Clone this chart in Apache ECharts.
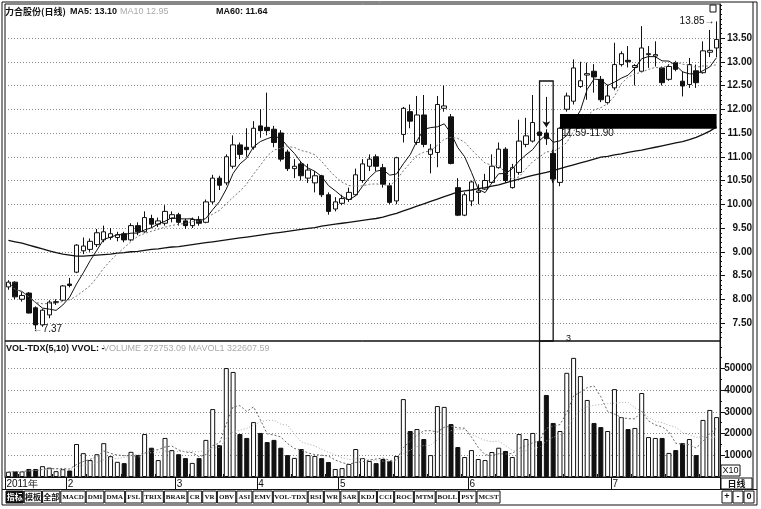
<!DOCTYPE html>
<html><head><meta charset="utf-8">
<script src="https://cdn.jsdelivr.net/npm/echarts@6/dist/echarts.min.js"></script>
<style>html,body{margin:0;padding:0;background:#fff}#c{width:761px;height:509px}</style>
</head><body><div id="c"></div>
<script>
// ---------- data ----------
const opens = [
8.26, 8.36, 8.00, 8.13, 7.82, 7.46, 7.67, 7.93, 7.98, 8.32,
8.57, 9.02, 9.05, 9.15, 9.25, 9.30, 9.30, 9.38, 9.25, 9.55,
9.42, 9.70, 9.58, 9.60, 9.70, 9.78, 9.65, 9.55, 9.68, 9.62,
10.05, 10.55, 10.45, 10.80, 11.25, 11.20, 11.20, 11.65, 11.62, 11.58,
11.50, 11.10, 10.75, 10.85, 10.55, 10.45, 10.60, 10.20, 9.90, 10.02,
10.10, 10.20, 10.50, 10.80, 11.00, 10.77, 10.39, 10.07, 11.47, 11.95,
11.30, 11.88, 11.05, 11.09, 12.02, 11.84, 10.35, 9.77, 10.07, 10.25,
10.32, 10.46, 10.77, 11.16, 10.35, 10.67, 11.26, 11.33, 11.52, 11.50,
11.07, 10.46, 12.00, 12.17, 12.48, 12.72, 12.80, 12.63, 12.14, 12.45,
12.94, 13.03, 12.88, 12.80, 13.15, 13.12, 12.87, 12.63, 12.98, 12.59,
12.52, 12.81, 12.77, 13.20, 13.29];
const closes = [
8.36, 8.05, 8.08, 7.71, 7.46, 7.77, 7.94, 7.95, 8.28, 8.29,
9.14, 9.12, 9.22, 9.40, 9.42, 9.38, 9.36, 9.25, 9.55, 9.42,
9.72, 9.58, 9.65, 9.85, 9.78, 9.62, 9.55, 9.68, 9.60, 10.05,
10.55, 10.40, 11.00, 11.25, 11.05, 11.15, 11.60, 11.55, 11.55, 11.30,
10.95, 10.75, 10.80, 10.60, 10.72, 10.60, 10.20, 9.85, 10.05, 10.12,
10.25, 10.62, 10.85, 10.95, 10.80, 10.42, 10.04, 10.98, 12.02, 11.75,
11.88, 11.26, 11.16, 12.10, 12.07, 10.86, 9.77, 10.20, 10.47, 10.28,
10.50, 10.80, 11.16, 10.50, 10.77, 11.33, 11.44, 11.72, 11.45, 11.38,
10.53, 11.60, 12.28, 12.87, 12.60, 12.75, 12.68, 12.20, 12.28, 12.94,
13.17, 13.00, 12.92, 13.29, 13.17, 13.15, 12.56, 12.90, 12.84, 12.49,
12.94, 12.56, 13.23, 13.24, 13.47];
const lows = [
8.20, 8.00, 7.95, 7.70, 7.37, 7.42, 7.60, 7.88, 7.96, 8.25,
8.55, 8.95, 9.00, 9.10, 9.20, 9.25, 9.22, 9.20, 9.22, 9.35,
9.40, 9.50, 9.52, 9.55, 9.62, 9.55, 9.48, 9.50, 9.55, 9.60,
10.00, 10.30, 10.40, 10.75, 10.95, 11.00, 11.15, 11.40, 11.45, 11.20,
10.90, 10.70, 10.55, 10.50, 10.45, 10.25, 10.15, 9.78, 9.85, 9.98,
10.05, 10.18, 10.45, 10.70, 10.70, 10.35, 10.00, 10.00, 11.30, 11.60,
11.25, 11.20, 10.65, 10.78, 11.95, 10.84, 9.75, 9.75, 9.96, 10.00,
10.30, 10.44, 10.75, 10.45, 10.33, 10.62, 11.20, 11.30, 11.40, 11.25,
10.45, 10.38, 11.95, 12.10, 12.45, 12.20, 12.35, 12.15, 12.10, 12.40,
12.90, 12.88, 12.50, 12.78, 12.87, 12.90, 12.50, 12.60, 12.80, 12.27,
12.45, 12.45, 12.75, 13.10, 13.10];
const highs = [
8.40, 8.38, 8.15, 8.15, 7.85, 7.80, 7.98, 8.00, 8.30, 8.45,
9.16, 9.30, 9.28, 9.48, 9.55, 9.50, 9.42, 9.42, 9.60, 9.62,
9.85, 9.78, 9.72, 9.98, 9.85, 9.82, 9.70, 9.72, 9.75, 10.10,
10.62, 10.60, 11.05, 11.45, 11.30, 11.60, 11.75, 12.00, 12.35, 11.65,
11.56, 11.15, 10.95, 10.90, 10.85, 10.70, 10.62, 10.25, 10.15, 10.20,
10.35, 10.75, 10.95, 11.05, 11.05, 10.85, 10.45, 11.00, 12.05, 12.10,
12.28, 12.30, 11.27, 12.28, 12.50, 11.90, 10.55, 10.25, 10.50, 10.42,
10.64, 11.05, 11.30, 11.20, 10.85, 11.78, 11.82, 12.30, 11.60, 11.58,
11.15, 11.62, 12.35, 13.05, 13.00, 12.98, 12.95, 12.70, 12.52, 13.40,
13.22, 13.33, 12.95, 13.75, 13.33, 13.43, 12.90, 12.95, 13.02, 12.80,
13.08, 12.94, 13.43, 13.67, 13.85];
const volumes = [
2400, 2600, 2600, 3700, 3700, 5000, 4300, 2700, 3600, 3000,
15200, 11000, 7800, 10500, 15600, 9600, 7000, 6400, 11600, 10100,
19800, 13500, 7800, 18000, 12400, 10500, 8700, 6500, 8700, 17100,
31300, 14700, 50200, 48400, 19800, 18000, 25300, 20300, 16100, 17100,
13500, 10100, 8800, 12900, 10100, 9700, 8700, 6900, 3700, 4100,
6000, 12900, 8700, 7400, 6400, 8300, 7400, 9700, 35900, 21200,
22100, 17500, 10100, 32700, 32300, 24400, 13800, 9200, 12400, 8300,
7800, 11500, 13500, 12000, 9200, 19800, 17500, 20300, 16600, 37800,
24900, 21200, 48000, 54900, 46500, 35500, 24900, 23000, 21200, 40500,
27600, 22100, 22600, 38700, 18400, 18000, 18000, 11100, 12400, 15600,
17500, 10100, 26300, 30900, 27600];
const ma60 = [
9.24, 9.21, 9.18, 9.14, 9.10, 9.06, 9.02, 8.98, 8.95, 8.93,
8.91, 8.91, 8.92, 8.93, 8.94, 8.95, 8.97, 8.98, 9.00, 9.01,
9.03, 9.05, 9.06, 9.08, 9.10, 9.11, 9.13, 9.15, 9.17, 9.19,
9.21, 9.23, 9.25, 9.27, 9.29, 9.31, 9.33, 9.35, 9.37, 9.39,
9.41, 9.43, 9.45, 9.47, 9.49, 9.51, 9.54, 9.56, 9.58, 9.60,
9.62, 9.64, 9.66, 9.68, 9.70, 9.73, 9.77, 9.81, 9.86, 9.91,
9.96, 10.01, 10.06, 10.11, 10.16, 10.21, 10.26, 10.28, 10.30, 10.33,
10.35, 10.38, 10.41, 10.45, 10.49, 10.53, 10.57, 10.61, 10.64, 10.67,
10.71, 10.75, 10.79, 10.83, 10.87, 10.91, 10.95, 10.99, 11.01, 11.04,
11.06, 11.09, 11.12, 11.14, 11.17, 11.20, 11.23, 11.26, 11.29, 11.32,
11.36, 11.41, 11.47, 11.54, 11.63];
const categories = closes.map((_, i) => 'D' + (i + 1));
const priceTicks = [7.5, 8.0, 8.5, 9.0, 9.5, 10.0, 10.5, 11.0, 11.5, 12.0, 12.5, 13.0, 13.5];
const volumeTicks = [10000, 20000, 30000, 40000, 50000];
const monthLabels = ['2011年', '2', '3', '4', '5', '6', '7'];
const monthStarts = [0, 9, 25, 37, 49, 68, 89];
const supportZone = [11.59, 11.90];
const toolbarLabels = ['指标','模板','全部','MACD','DMI','DMA','FSL','TRIX','BRAR','CR','VR','OBV','ASI','EMV','VOL-TDX','RSI','WR','SAR','KDJ','CCI','ROC','MTM','BOLL','PSY','MCST'];

// ---------- axis extents (layout) ----------
const PRICE_MIN = 7.121, PRICE_MAX = 14.216, VOL_MAX = 62670;

// ---------- derived ----------
function movingAvg(arr, n) {
  return arr.map((_, i) => {
    const s = Math.max(0, i - n + 1); let sum = 0;
    for (let k = s; k <= i; k++) sum += arr[k];
    return +(sum / (i - s + 1)).toFixed(3);
  });
}
const ma5 = movingAvg(closes, 5), ma10 = movingAvg(closes, 10);
const vma5 = movingAvg(volumes, 5), vma10 = movingAvg(volumes, 10);
const kData = opens.map((o, i) => [o, closes[i], lows[i], highs[i]]);
const isUp = opens.map((o, i) => closes[i] >= o);
const minorPrice = []; for (let k = 72; k <= 142; k++) minorPrice.push(k / 10);
const minorVol = []; for (let k = 1; k <= 12; k++) minorVol.push(k * 5000);
const monthMap = {}; monthStarts.forEach((s, k) => monthMap[s] = monthLabels[k]);

const INK = '#111';
const SANS = '"Liberation Sans", Arial, sans-serif';
const CJK = '"Noto Sans CJK SC", sans-serif';

// toolbar
const tctx = document.createElement('canvas').getContext('2d');
const tbFont = 'bold 7px "Liberation Serif", serif';
tctx.font = tbFont;
const rawW = toolbarLabels.map(t => tctx.measureText(t).width + 6);
const scale = 495 / rawW.reduce((a, b) => a + b, 0);
const toolbar = [];
let tx = 6;
toolbarLabels.forEach((t, k) => {
  const w = rawW[k] * scale;
  toolbar.push({type: 'rect', shape: {x: tx, y: 491, width: w - 1, height: 12}, style: {fill: k === 0 ? INK : '#fff', stroke: INK, lineWidth: 1}});
  toolbar.push({type: 'text', x: tx + (w - 1) / 2, y: 497, style: {text: t, fill: k === 0 ? '#fff' : INK, font: /[A-Z]/.test(t) ? tbFont : 'bold 8px ' + CJK, align: 'center', verticalAlign: 'middle'}});
  tx += w;
});
['+', '-', '0'].forEach((t, k) => {
  toolbar.push({type: 'rect', shape: {x: 722 + k * 11, y: 491, width: 10, height: 12}, style: {fill: '#fff', stroke: INK, lineWidth: 1}});
  toolbar.push({type: 'text', x: 727 + k * 11, y: 497, style: {text: t, fill: INK, font: 'bold 9px ' + SANS, align: 'center', verticalAlign: 'middle'}});
});

const chart = echarts.init(document.getElementById('c'));
const gridLineStyle = {color: '#888', type: [1, 2], width: 1};
chart.setOption({
  animation: false,
  backgroundColor: '#fff',
  grid: [
    {left: 5, right: 41, top: 4, height: 337, show: true, borderColor: INK, borderWidth: 1, backgroundColor: 'transparent'},
    {left: 5, right: 41, top: 341, height: 136, show: true, borderColor: INK, borderWidth: 1, backgroundColor: 'transparent'}
  ],
  xAxis: [
    {type: 'category', gridIndex: 0, data: categories, boundaryGap: true, show: false},
    {type: 'category', gridIndex: 1, data: categories, boundaryGap: true,
     axisLine: {show: true, lineStyle: {color: INK}},
     axisTick: {show: true, length: 12, interval: (i) => monthMap[i] !== undefined, lineStyle: {color: INK}},
     axisLabel: {interval: (i) => monthMap[i] !== undefined, formatter: (v, i) => monthMap[i] || '',
       align: 'left', margin: 2, fontSize: 10, color: INK, fontFamily: SANS, padding: [0, 0, 0, -2]}},
    {type: 'category', gridIndex: 1, data: categories, boundaryGap: true,
     axisLine: {show: false}, axisLabel: {show: false},
     axisTick: {show: true, length: 3, interval: (i) => i % 5 === 2 && monthMap[i] === undefined, lineStyle: {color: INK}}}
  ],
  yAxis: [
    {type: 'value', gridIndex: 0, position: 'right', min: PRICE_MIN, max: PRICE_MAX,
     splitLine: {show: false}, axisLine: {show: true, lineStyle: {color: INK}},
     axisTick: {show: true, customValues: priceTicks, length: 5, lineStyle: {color: INK}},
     axisLabel: {customValues: priceTicks, formatter: v => v.toFixed(2), align: 'right', margin: 32, fontSize: 10, color: INK, fontFamily: SANS, fontWeight: 'bold'}},
    {type: 'value', gridIndex: 1, position: 'right', min: 0, max: VOL_MAX,
     splitLine: {show: false}, axisLine: {show: true, lineStyle: {color: INK}},
     axisTick: {show: true, customValues: volumeTicks, length: 5, lineStyle: {color: INK}},
     axisLabel: {customValues: volumeTicks, formatter: v => String(v), align: 'right', margin: 32, fontSize: 10, color: INK, fontFamily: SANS, fontWeight: 'bold'}},
    {type: 'value', gridIndex: 0, position: 'right', min: PRICE_MIN, max: PRICE_MAX, splitLine: {show: false},
     axisLine: {show: false}, axisLabel: {show: false},
     axisTick: {show: true, customValues: minorPrice, length: 2, lineStyle: {color: INK}}},
    {type: 'value', gridIndex: 1, position: 'right', min: 0, max: VOL_MAX, splitLine: {show: false},
     axisLine: {show: false}, axisLabel: {show: false},
     axisTick: {show: true, customValues: minorVol, length: 2, lineStyle: {color: INK}}}
  ],
  series: [
    {type: 'line', name: 'MA60', xAxisIndex: 0, yAxisIndex: 0, data: ma60, symbol: 'none', z: 3,
     lineStyle: {color: INK, width: 1.3}, silent: true,
     markLine: {silent: true, symbol: 'none', z: 1, label: {show: false}, lineStyle: gridLineStyle,
       data: priceTicks.map(v => ({yAxis: v}))}},
    {type: 'candlestick', name: 'K', xAxisIndex: 0, yAxisIndex: 0, data: kData, barWidth: 5, z: 2,
     itemStyle: {color: '#fff', color0: INK, borderColor: INK, borderColor0: INK, borderColorDoji: INK, borderWidth: 1},
     markArea: {silent: true, z: 6, data: [
       [{xAxis: categories[81], yAxis: supportZone[1], itemStyle: {color: '#000', borderWidth: 0}}, {xAxis: categories[104], yAxis: supportZone[0]}],
       [{xAxis: categories[78], yAxis: 12.595, itemStyle: {color: 'rgba(0,0,0,0)', borderColor: INK, borderWidth: 1.3}}, {xAxis: categories[80], yAxis: PRICE_MIN}]
     ]},
     markLine: {silent: true, z: 6, symbol: ['none', 'arrow'], symbolSize: 6, label: {show: false},
       lineStyle: {color: INK, type: 'solid', width: 1},
       data: [[{xAxis: categories[79], yAxis: 12.26}, {xAxis: categories[79], yAxis: 11.62}]]},
     markPoint: {silent: true, z: 7, symbol: 'circle', symbolSize: 0, data: [
       {coord: [categories[81], supportZone[0]], label: {show: true, formatter: supportZone[0].toFixed(2) + '-' + supportZone[1].toFixed(2), position: 'right', distance: 2, offset: [0, 5], color: INK, fontSize: 10, fontFamily: SANS}},
       {coord: [categories[104], 13.85], label: {show: true, formatter: '13.85→', position: 'left', distance: 2, color: INK, fontSize: 10, fontFamily: SANS}},
       {coord: [categories[4], 7.37], label: {show: true, formatter: '←7.37', position: 'right', distance: -3, color: INK, fontSize: 10, fontFamily: SANS}},
       {coord: [categories[83], 7.18], label: {show: true, formatter: '3', position: 'inside', offset: [-5, 0], color: INK, fontSize: 9, fontFamily: SANS}}
     ]}},
    {type: 'line', name: 'MA5', xAxisIndex: 0, yAxisIndex: 0, data: ma5, symbol: 'none', z: 4, silent: true,
     lineStyle: {color: INK, width: 1}},
    {type: 'line', name: 'MA10', xAxisIndex: 0, yAxisIndex: 0, data: ma10, symbol: 'none', z: 4, silent: true,
     lineStyle: {color: '#777', width: 1, type: [2, 2]}},
    {type: 'bar', name: 'VOL', xAxisIndex: 1, yAxisIndex: 1, barWidth: 5, z: 2,
     data: volumes.map((v, i) => ({value: v, itemStyle: {color: isUp[i] ? '#fff' : INK}})),
     itemStyle: {borderColor: INK, borderWidth: 1},
     markLine: {silent: true, symbol: 'none', z: 1, label: {show: false}, lineStyle: gridLineStyle,
       data: volumeTicks.map(v => ({yAxis: v}))},
     markArea: {silent: true, z: 6, data: [
       [{xAxis: categories[78], yAxis: VOL_MAX, itemStyle: {color: 'rgba(0,0,0,0)', borderColor: INK, borderWidth: 1.3}}, {xAxis: categories[80], yAxis: 0}]
     ]}},
    {type: 'line', name: 'MAVOL5', xAxisIndex: 1, yAxisIndex: 1, data: vma5, symbol: 'none', z: 4, silent: true,
     lineStyle: {color: '#666', width: 1, type: [2, 2]}},
    {type: 'line', name: 'MAVOL10', xAxisIndex: 1, yAxisIndex: 1, data: vma10, symbol: 'none', z: 4, silent: true,
     lineStyle: {color: '#aaa', width: 1, type: [1, 2]}}
  ],
  graphic: [
    {type: 'rect', shape: {x: 2, y: 2, width: 755, height: 503}, style: {fill: 'none', stroke: INK, lineWidth: 1}, z: 100},
    {type: 'line', shape: {x1: 753, y1: 2, x2: 753, y2: 489}, style: {stroke: INK, lineWidth: 1}, z: 100},
    {type: 'line', shape: {x1: 2, y1: 489.5, x2: 757, y2: 489.5}, style: {stroke: INK, lineWidth: 1}, z: 100},
    {type: 'rect', shape: {x: 721, y: 465, width: 19, height: 11}, style: {fill: '#fff', stroke: INK, lineWidth: 1}, z: 100},
    {type: 'text', x: 730.5, y: 471, style: {text: 'X10', font: '9px ' + SANS, fill: INK, align: 'center', verticalAlign: 'middle'}, z: 101},
    {type: 'rect', shape: {x: 721, y: 478, width: 31, height: 11}, style: {fill: '#fff', stroke: INK, lineWidth: 1}, z: 100},
    {type: 'text', x: 736.5, y: 484, style: {text: '日线', font: 'bold 9px ' + CJK, fill: INK, align: 'center', verticalAlign: 'middle'}, z: 101},
    {type: 'rect', shape: {x: 710, y: 5, width: 6, height: 7}, style: {fill: '#fff', stroke: INK, lineWidth: 1}, z: 100},
    {type: 'text', x: 5, y: 12, style: {text: '力合股份(日线)', font: 'bold 9px ' + CJK, fill: INK, verticalAlign: 'middle'}, z: 100},
    {type: 'text', x: 70, y: 12, style: {text: 'MA5: 13.10', font: 'bold 9px ' + SANS, fill: INK, verticalAlign: 'middle'}, z: 100},
    {type: 'text', x: 120, y: 12, style: {text: 'MA10 12.95', font: '9px ' + SANS, fill: '#aaa', verticalAlign: 'middle'}, z: 100},
    {type: 'text', x: 216, y: 12, style: {text: 'MA60: 11.64', font: 'bold 9px ' + SANS, fill: INK, verticalAlign: 'middle'}, z: 100},
    {type: 'text', x: 6, y: 349, style: {text: 'VOL-TDX(5,10) VVOL: -', font: 'bold 9px ' + SANS, fill: INK, verticalAlign: 'middle'}, z: 100},
    {type: 'text', x: 103, y: 349, style: {text: 'VOLUME 272753.09 MAVOL1 322607.59', font: '9px ' + SANS, fill: '#aaa', verticalAlign: 'middle'}, z: 100}
  ].concat(toolbar)
});
</script>
</body></html>
